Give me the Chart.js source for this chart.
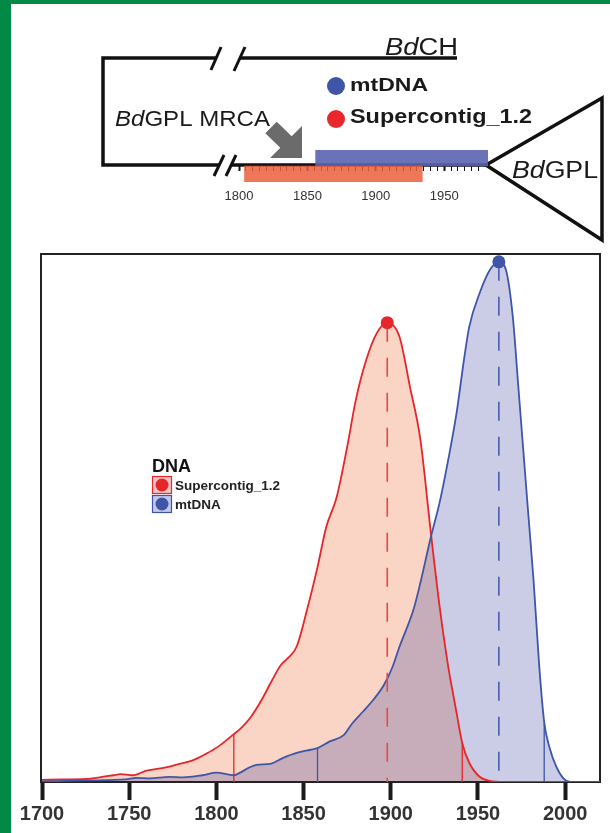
<!DOCTYPE html>
<html>
<head>
<meta charset="utf-8">
<script src="https://cdn.jsdelivr.net/npm/chart.js@4.4.0/dist/chart.umd.min.js"></script>
<style>
  html, body { margin: 0; padding: 0; background: #fff; }
  #page { position: relative; width: 610px; height: 833px; overflow: hidden; background: #fff; }
  #greenEdge { position: absolute; left: 0; top: 0; width: 610px; height: 833px; box-sizing: border-box;
               border-left: 11px solid #008a45; border-top: 4px solid #008a45; }
  canvas { position: absolute; left: 0; top: 0; }
</style>
</head>
<body>
<div id="page">
  <div id="greenEdge"></div>
  <canvas id="mainChart" width="610" height="833"></canvas>
  <canvas id="insetChart" width="610" height="250"></canvas>
</div>
<script>
// posterior density of the BdGPL MRCA age (relative units, mtDNA peak = 100)
const redYears   = [1700, 1712, 1725, 1733, 1741, 1745, 1752, 1760, 1771, 1779, 1786, 1794, 1801, 1810, 1814, 1820, 1826, 1832, 1837, 1841, 1846, 1852, 1858, 1863, 1869, 1875, 1880, 1886, 1892, 1898, 1905, 1911, 1917, 1923, 1928, 1933, 1936, 1938, 1941, 1945, 1951, 1957, 1965, 2020];
const redDensity = [0.4, 0.5, 0.6, 0.9, 1.3, 1.5, 1.3, 2.2, 2.8, 3.5, 4.1, 5.4, 6.8, 9.2, 10.3, 12.6, 15.8, 19.6, 22.5, 23.8, 26, 33.1, 41.3, 49, 54.8, 64.4, 73.5, 81.2, 86.3, 88.3, 85.6, 76, 65.8, 47.9, 33.8, 22.1, 16.5, 12.8, 7.5, 3.7, 1, 0.2, 0, 0];

const blueYears   = [1700, 1725, 1748, 1754, 1762, 1773, 1781, 1792, 1800, 1810, 1813, 1819, 1823, 1831, 1838, 1846, 1854, 1858, 1865, 1873, 1878, 1884, 1890, 1896, 1901, 1905, 1913, 1917, 1923, 1928, 1934, 1938, 1942, 1945, 1951, 1957, 1962, 1966, 1970, 1973, 1976, 1979, 1982, 1985, 1988, 1991, 1995, 1999, 2003, 2020];
const blueDensity = [0.1, 0.3, 0.5, 0.8, 0.7, 1.0, 0.9, 1.3, 1.8, 1.3, 1.7, 2.8, 3.3, 3.5, 4.6, 5.6, 6.2, 6.5, 7.8, 9.0, 11.3, 13.5, 15.8, 18.6, 22.1, 26, 33.1, 38.3, 47.1, 53.7, 63.8, 71.5, 81.2, 87.5, 94, 98.5, 100, 98.5, 89.4, 76.7, 63.8, 51, 38.3, 23, 11.5, 6.7, 2.9, 0.7, 0, 0];

// modes and 95% HPD bounds (with the curve height at each bound)
const redMode = 1898, redModeDensity = 88.3;
const blueMode = 1962, blueModeDensity = 100;
const redHpd = [1810, 1941], redHpdDensity = [9.2, 7.5];
const blueHpd = [1858, 1988], blueHpdDensity = [6.5, 11.3];

const xTicks = [1700, 1750, 1800, 1850, 1900, 1950, 2000];
const legendOrder = ['Supercontig_1.2', 'mtDNA'];

// inset: HPD intervals on the tree
const intervalNames = ['mtDNA', 'Supercontig_1.2'];
const intervalStart = [1856, 1804];
const intervalEnd   = [1982, 1934];
const insetTicks = [1800, 1850, 1900, 1950];

const FONT = "'Liberation Sans', Arial, Helvetica, sans-serif";
Chart.defaults.font.family = FONT;

const RED = '#e5262a', RED_FILL = 'rgba(241,132,86,0.35)', RED_BOX = '#f6c4c2';
const BLUE = '#3f56a8', BLUE_FILL = 'rgba(62,72,162,0.27)', BLUE_BOX = '#c3c8e6';

const pts = (xs, ys) => xs.map((x, i) => ({ x: x, y: ys[i] }));
const vline = (x, top, color, dash) => ({
  type: 'line', data: [{ x: x, y: top }, { x: x, y: 0 }], borderColor: color,
  borderWidth: dash ? 1.6 : 1.3, borderDash: dash || [], pointRadius: 0, fill: false, tension: 0
});

// black frame round the plot
const framePlugin = {
  id: 'frame',
  beforeDatasetsDraw(chart) {
    const a = chart.chartArea, ctx = chart.ctx;
    ctx.save();
    ctx.strokeStyle = '#222';
    ctx.lineWidth = 2;
    ctx.strokeRect(a.left - 1, a.top, a.right - a.left + 1, a.bottom - a.top);
    ctx.restore();
  }
};

// legend with title DNA, boxed dots
const dnaLegend = {
  id: 'dnaLegend',
  afterDraw(chart) {
    const ctx = chart.ctx;
    ctx.save();
    ctx.fillStyle = '#111';
    ctx.font = 'bold 18px ' + FONT;
    ctx.textBaseline = 'alphabetic';
    ctx.fillText('DNA', 152, 472);
    legendOrder.forEach((name, i) => {
      const ds = chart.data.datasets.find(d => d.label === name);
      const top = 476 + i * 19;
      ctx.fillStyle = ds.legendBox;
      ctx.fillRect(152, top, 20, 18);
      ctx.strokeStyle = ds.borderColor;
      ctx.lineWidth = 1.2;
      ctx.strokeRect(152.5, top + 0.5, 19, 17);
      ctx.beginPath();
      ctx.arc(162, top + 9, 6.5, 0, Math.PI * 2);
      ctx.fillStyle = ds.borderColor;
      ctx.fill();
      ctx.fillStyle = '#222';
      ctx.font = 'bold 13.5px ' + FONT;
      ctx.textBaseline = 'middle';
      ctx.fillText(name, 175, top + 10);
    });
    ctx.restore();
  }
};

new Chart(document.getElementById('mainChart'), {
  type: 'line',
  data: {
    datasets: [
      { type: 'scatter', data: [{ x: redMode, y: redModeDensity }], pointRadius: 6.5, pointBackgroundColor: RED, pointBorderWidth: 0 },
      { type: 'scatter', data: [{ x: blueMode, y: blueModeDensity }], pointRadius: 6.5, pointBackgroundColor: BLUE, pointBorderWidth: 0 },
      vline(redMode, redModeDensity, '#e8474a', [19, 16]),
      vline(blueMode, blueModeDensity, '#4a5db0', [19, 16]),
      vline(redHpd[0], redHpdDensity[0], RED),
      vline(redHpd[1], redHpdDensity[1], RED),
      vline(blueHpd[0], blueHpdDensity[0], BLUE),
      vline(blueHpd[1], blueHpdDensity[1], BLUE),
      { label: 'mtDNA', data: pts(blueYears, blueDensity), borderColor: BLUE, backgroundColor: BLUE_FILL,
        legendBox: BLUE_BOX, fill: 'origin', borderWidth: 1.8, pointRadius: 0, cubicInterpolationMode: 'monotone' },
      { label: 'Supercontig_1.2', data: pts(redYears, redDensity), borderColor: RED, backgroundColor: RED_FILL,
        legendBox: RED_BOX, fill: 'origin', borderWidth: 1.8, pointRadius: 0, cubicInterpolationMode: 'monotone' }
    ]
  },
  options: {
    responsive: false,
    animation: false,
    devicePixelRatio: 1,
    layout: { padding: { left: 42, right: 10, top: 254, bottom: 0 } },
    plugins: {
      legend: { display: false },
      tooltip: { enabled: false },
      filler: { drawTime: 'beforeDatasetsDraw' }
    },
    scales: {
      x: {
        type: 'linear', min: 1700, max: 2020,
        afterBuildTicks: s => { s.ticks = xTicks.map(v => ({ value: v })); },
        afterFit: s => { s.height = 51; },
        border: { display: false },
        grid: { drawOnChartArea: false, drawTicks: true, tickLength: 18, tickWidth: 4, tickColor: '#1a1a1a' },
        ticks: { padding: 2, color: '#333', font: { size: 20, weight: 'bold' }, maxRotation: 0, autoSkip: false,
                 callback: v => String(v) }
      },
      y: { display: false, min: 0, max: 101.5 }
    }
  },
  plugins: [framePlugin, dnaLegend]
});

// ---- inset tree ----
function richText(ctx, parts, x, y, size, width) {
  ctx.save();
  let natural = 0;
  parts.forEach(p => { ctx.font = p[1] + ' ' + size + 'px ' + FONT; natural += ctx.measureText(p[0]).width; });
  ctx.translate(x, y);
  ctx.scale(width / natural, 1);
  let cx = 0;
  parts.forEach(p => {
    ctx.font = p[1] + ' ' + size + 'px ' + FONT;
    ctx.fillText(p[0], cx, 0);
    cx += ctx.measureText(p[0]).width;
  });
  ctx.restore();
}

function seg(ctx, x1, y1, x2, y2) {
  ctx.beginPath(); ctx.moveTo(x1, y1); ctx.lineTo(x2, y2); ctx.stroke();
}

const treePlugin = {
  id: 'tree',
  beforeDatasetsDraw(chart) {
    const ctx = chart.ctx;
    ctx.save();
    ctx.strokeStyle = '#111';
    ctx.lineWidth = 3.5;
    ctx.lineJoin = 'miter';
    ctx.beginPath();
    ctx.moveTo(216, 58); ctx.lineTo(103, 58); ctx.lineTo(103, 165); ctx.lineTo(219, 165);
    ctx.stroke();
    seg(ctx, 240, 58, 457, 58);
    seg(ctx, 231, 165, 486, 165);
    ctx.lineWidth = 3;
    seg(ctx, 211, 70, 221, 47);
    seg(ctx, 234, 71, 245, 47);
    seg(ctx, 214, 176, 224, 155);
    seg(ctx, 226, 176, 236, 155);
    ctx.lineWidth = 3.5;
    ctx.beginPath();
    ctx.moveTo(486, 165); ctx.lineTo(602, 98); ctx.lineTo(602, 240); ctx.closePath();
    ctx.stroke();
    ctx.restore();
  },
  afterDatasetsDraw(chart) {
    const ctx = chart.ctx;
    ctx.save();
    // arrow to the MRCA
    ctx.fillStyle = '#6b6b6b';
    ctx.beginPath();
    [[276.7, 121.8], [291.7, 136.3], [302, 126], [302, 158], [270, 158], [280.3, 147.7], [265.3, 133.2]]
      .forEach((p, i) => i ? ctx.lineTo(p[0], p[1]) : ctx.moveTo(p[0], p[1]));
    ctx.closePath();
    ctx.fill();
    // labels
    ctx.fillStyle = '#1a1a1a';
    ctx.textBaseline = 'alphabetic';
    richText(ctx, [['Bd', 'italic'], ['CH', 'normal']], 385, 55, 23, 73);
    richText(ctx, [['Bd', 'italic'], ['GPL MRCA', 'normal']], 115, 126, 22, 155);
    richText(ctx, [['Bd', 'italic'], ['GPL', 'normal']], 512, 178, 23, 86);
    richText(ctx, [['mtDNA', 'bold']], 350, 91, 19, 78);
    richText(ctx, [['Supercontig_1.2', 'bold']], 350, 123, 20, 182);
    ctx.fillStyle = BLUE;
    ctx.beginPath(); ctx.arc(336, 86, 9, 0, Math.PI * 2); ctx.fill();
    ctx.fillStyle = '#e8262b';
    ctx.beginPath(); ctx.arc(336, 119, 9, 0, Math.PI * 2); ctx.fill();
    ctx.restore();
  }
};

new Chart(document.getElementById('insetChart'), {
  type: 'bar',
  data: {
    labels: intervalNames,
    datasets: [{
      data: intervalNames.map((n, i) => [intervalStart[i], intervalEnd[i]]),
      backgroundColor: ['rgba(90,100,175,0.9)', 'rgba(235,95,60,0.85)'],
      borderWidth: 0, barPercentage: 1, categoryPercentage: 1
    }]
  },
  options: {
    indexAxis: 'y',
    responsive: false,
    animation: false,
    devicePixelRatio: 1,
    layout: { padding: { left: 239, right: 122, top: 150, bottom: 68 } },
    plugins: { legend: { display: false }, tooltip: { enabled: false } },
    scales: {
      x: {
        type: 'linear', min: 1800, max: 1982, position: { y: 0.5 },
        afterFit: s => { s.height = 0; },
        afterBuildTicks: s => { s.ticks = s.ticks.filter(t => t.value % 5 === 0); },
        border: { display: false },
        grid: { drawOnChartArea: false, drawTicks: true, tickLength: 5, tickColor: '#111',
                tickWidth: c => (c.tick && insetTicks.includes(c.tick.value)) ? 2 : 1 },
        ticks: { stepSize: 5, autoSkip: false, maxRotation: 0, padding: 18, color: '#333', font: { size: 13 },
                 callback: v => insetTicks.includes(v) ? String(v) : '' }
      },
      y: { display: false }
    }
  },
  plugins: [treePlugin]
});
</script>
</body>
</html>
